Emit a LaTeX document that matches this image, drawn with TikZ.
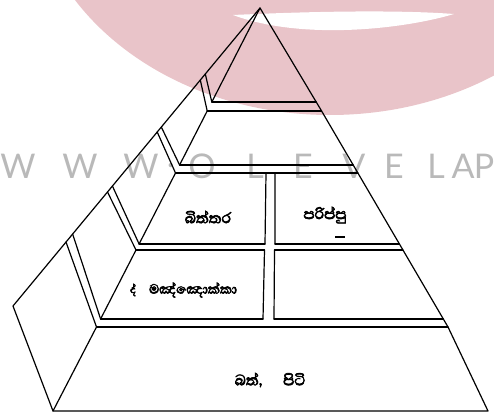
\documentclass[tikz,border=0pt]{standalone}
\usepackage{fontspec}
\newfontfamily\sinhalafont[Script=Sinhala,FakeBold=3.5]{Abhaya Libre}
\newfontfamily\wmfont{Lato}
\definecolor{WmPink}{RGB}{233,196,201}
\definecolor{WmGray}{RGB}{185,185,185}
\tikzset{pyrline/.style={line width=1.2pt, line join=round, line cap=round}}
\tikzset{foodtext/.style={font=\sinhalafont\fontsize{19}{19}\selectfont, inner sep=0pt}}
\tikzset{wmletter/.style={font=\wmfont\fontsize{34}{34}\selectfont, text=WmGray, inner sep=0pt}}

\begin{document}
\begin{tikzpicture}[x=1pt, y=-1pt]
    \useasboundingbox (0,0) rectangle (494,414);
    \clip (0,0) rectangle (494,414);
    % watermark
    \fill[WmPink] (330,-128) ellipse [x radius=300, y radius=243];
    \fill[white] (233,15) .. controls (320,11) and (400,10) .. (454,14)
                 .. controls (400,30) and (300,40) .. (233,15);
    \foreach \ch/\x [count=\i] in {W/18, W/80, W/141, ./171, O/202, L/255, E/303, V/354, E/394, L/436, A/463, P/484}
        \node[wmletter] (wm\i) at (\x,166) {\ch};
    % outline
    \coordinate (apex)  at (260,8);
    \coordinate (outer) at (13,306);
    \coordinate (baseL) at (53,411);
    \coordinate (baseR) at (488,411);
    \coordinate (r1)    at (321,110);
    \coordinate (r2)    at (448,327);
    % double lines between the tiers
    \coordinate (t1ul) at (211.8,102); \coordinate (t1ur) at (316.2,102);
    \coordinate (t1ll) at (207.2,111); \coordinate (t1lr) at (321.6,111);
    \coordinate (t2ul) at (179.6,165); \coordinate (t2ur) at (353.2,165);
    \coordinate (t2ll) at (175.5,173); \coordinate (t2lr) at (357.9,173);
    \coordinate (t3ul) at (139.1,244); \coordinate (t3ur) at (399.4,244);
    \coordinate (t3ll) at (136.0,250); \coordinate (t3lr) at (402.9,250);
    \coordinate (t4ul) at (100.6,319); \coordinate (t4ur) at (443.3,319);
    \coordinate (t4ll) at (96.5,327);  \coordinate (t4lr) at (448.0,327);
    % ends of the bevels on the side face
    \coordinate (b1u) at (205.3,74);  \coordinate (b1l) at (200.3,80);
    \coordinate (b2u) at (161.3,127); \coordinate (b2l) at (157.2,132);
    \coordinate (b3u) at (112.4,186); \coordinate (b3l) at (107.5,192);
    \coordinate (b4u) at (72.6,234);  \coordinate (b4l) at (66.0,242);
    % middle gap
    \coordinate (v3a) at (266,173);   \coordinate (w3a) at (275,173);
    \coordinate (v3b) at (265,244);   \coordinate (w3b) at (275,244);
    \coordinate (v4a) at (264.5,250); \coordinate (w4a) at (274.5,250);
    \coordinate (v4b) at (263,319);   \coordinate (w4b) at (274,319);

    \draw[pyrline] (apex) -- (outer) -- (baseL) -- (baseR) -- (r2) -- (r1) -- cycle;
    \draw[pyrline] (apex) -- (t1ul) (t1ll) -- (t2ul) (t2ll) -- (t3ul)
                   (t3ll) -- (t4ul) (t4ll) -- (baseL);
    \draw[pyrline] (t1ul) -- (t1ur) (t1ll) -- (t1lr)
                   (t2ul) -- (t2ur) (t2ll) -- (t2lr)
                   (t3ul) -- (v3b) (w3b) -- (t3ur)
                   (t3ll) -- (v4a) (w4a) -- (t3lr)
                   (t4ul) -- (v4b) (w4b) -- (t4ur)
                   (t4ll) -- (t4lr);
    \draw[pyrline] (v3a) -- (v3b) (w3a) -- (w3b) (v4a) -- (v4b) (w4a) -- (w4b);
    \foreach \k in {1,...,4}
        \draw[pyrline] (b\k u) -- (t\k ul) (b\k l) -- (t\k ll);
    % labels
    \node[foodtext] (eggs)   at (208,217) {බිත්තර};
    \node[foodtext] (dhal)   at (325,215) {පරිප්පු};
    \node[foodtext, font=\sinhalafont\fontsize{17}{17}\selectfont] (manioc) at (193,290) {මඤ්ඤොක්කා};
    \node[foodtext] (rice)   at (270,380) {බත්,\hspace{1.1em}පිටි};
    \node[foodtext, font=\sinhalafont\fontsize{14}{14}\selectfont] (mark) at (133,290) {ද්};
    \coordinate (dashA) at (335,237); \coordinate (dashB) at (345,237);
    \draw[line width=1.5pt] (dashA) -- (dashB);
\end{tikzpicture}
\end{document}
